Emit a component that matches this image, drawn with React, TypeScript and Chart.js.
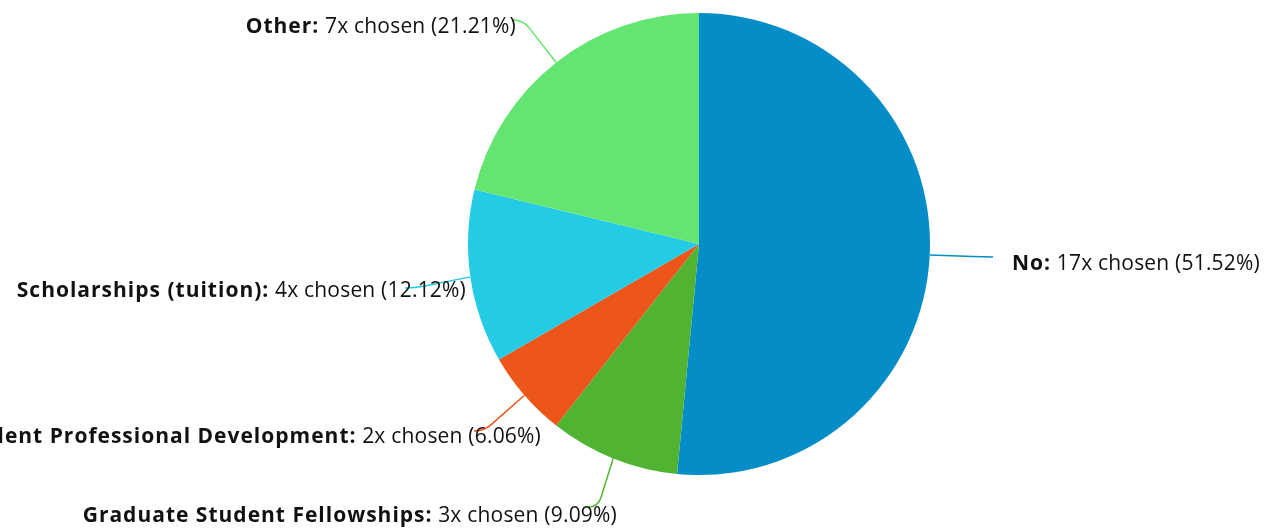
import { useEffect, useRef } from "react";
import { Chart, registerables } from "chart.js";

Chart.register(...registerables);

const categories = [
  "No",
  "Graduate Student Fellowships",
  "Graduate Student Professional Development",
  "Scholarships (tuition)",
  "Other",
];
const counts = [17, 3, 2, 4, 7];
const percents = ["51.52", "9.09", "6.06", "12.12", "21.21"];
const colors = ["#058DC7", "#50B432", "#ED561B", "#24CBE5", "#64E572"];

// label placement (text anchor + connector end), layout only
const labelLayout = [
  { align: "left", x: 1012, y: 270, ax: 993, ay: 257 },
  { align: "right", x: 617, y: 522, ax: 588, ay: 507 },
  { align: "right", x: 541, y: 443, ax: 474, ay: 431 },
  { align: "right", x: 466, y: 297, ax: 405, ay: 288 },
  { align: "right", x: 516, y: 33, ax: 513, ay: 20 },
];

const FONT_FAMILY = '"Open Sans", "DejaVu Sans", sans-serif';
const FONT_SIZE = 21;

const labelPlugin = {
  id: "pieLabels",
  afterDraw(chart: any) {
    const ctx = chart.ctx as CanvasRenderingContext2D;
    const meta = chart.getDatasetMeta(0);
    meta.data.forEach((arc: any, i: number) => {
      const lay = labelLayout[i];
      const { x, y, startAngle, endAngle, outerRadius } = arc.getProps(
        ["x", "y", "startAngle", "endAngle", "outerRadius"],
        true
      );
      const a = (startAngle + endAngle) / 2;
      const ex = x + outerRadius * Math.cos(a);
      const ey = y + outerRadius * Math.sin(a);
      const dir = lay.align === "right" ? 1 : -1;
      const cx = lay.ax + dir * 10;
      const cy = lay.ay;
      const dx = ex - cx;
      const dy = ey - cy;
      const len = Math.sqrt(dx * dx + dy * dy) || 1;
      const px = cx + (dx / len) * 10;
      const py = cy + (dy / len) * 10;
      ctx.save();
      ctx.strokeStyle = colors[i];
      ctx.lineWidth = 1.5;
      ctx.beginPath();
      ctx.moveTo(ex, ey);
      ctx.lineTo(px, py);
      ctx.quadraticCurveTo(cx, cy, lay.ax, lay.ay);
      ctx.stroke();
      ctx.restore();

      const boldText = categories[i] + ":";
      const normalText = `${counts[i]}x chosen (${percents[i]}%)`;
      ctx.save();
      ctx.textBaseline = "alphabetic";
      ctx.fillStyle = "#111111";
      ctx.font = `${FONT_SIZE}px ${FONT_FAMILY}`;
      (ctx as any).letterSpacing = "0.2px";
      const normalW = ctx.measureText(normalText).width;
      const spaceW = ctx.measureText(" ").width;
      ctx.font = `bold ${FONT_SIZE}px ${FONT_FAMILY}`;
      (ctx as any).letterSpacing = "1px";
      const boldW = ctx.measureText(boldText).width;
      let startX: number;
      if (lay.align === "left") startX = lay.x;
      else startX = lay.x - normalW - spaceW - boldW;
      ctx.textAlign = "left";
      ctx.fillText(boldText, startX, lay.y);
      ctx.font = `${FONT_SIZE}px ${FONT_FAMILY}`;
      (ctx as any).letterSpacing = "0.2px";
      ctx.fillText(normalText, startX + boldW + spaceW, lay.y);
      ctx.restore();
    });
  },
};

export default function App() {
  const ref = useRef<HTMLCanvasElement | null>(null);
  useEffect(() => {
    if (!ref.current) return;
    const chart = new Chart(ref.current, {
      type: "pie",
      data: {
        labels: categories,
        datasets: [
          {
            data: counts,
            backgroundColor: colors,
            borderWidth: 0,
            hoverOffset: 0,
            offset: 0,
          },
        ],
      },
      options: {
        responsive: false,
        animation: false,
        events: [],
        layout: { padding: { left: 468, right: 336, top: 13, bottom: 53 } },
        plugins: {
          legend: { display: false },
          tooltip: { enabled: false },
        },
      },
      plugins: [labelPlugin],
    });
    let alive = true;
    if ((document as any).fonts) {
      Promise.all([
        (document as any).fonts.load(`bold ${FONT_SIZE}px "Open Sans"`),
        (document as any).fonts.load(`${FONT_SIZE}px "Open Sans"`),
      ]).then(() => {
        if (alive) chart.update();
      });
    }
    return () => {
      alive = false;
      chart.destroy();
    };
  }, []);
  return (
    <div style={{ position: "fixed", left: 0, top: 0, width: 1266, height: 528, background: "#fff" }}>
      <canvas ref={ref} width={1266} height={528} />
    </div>
  );
}
